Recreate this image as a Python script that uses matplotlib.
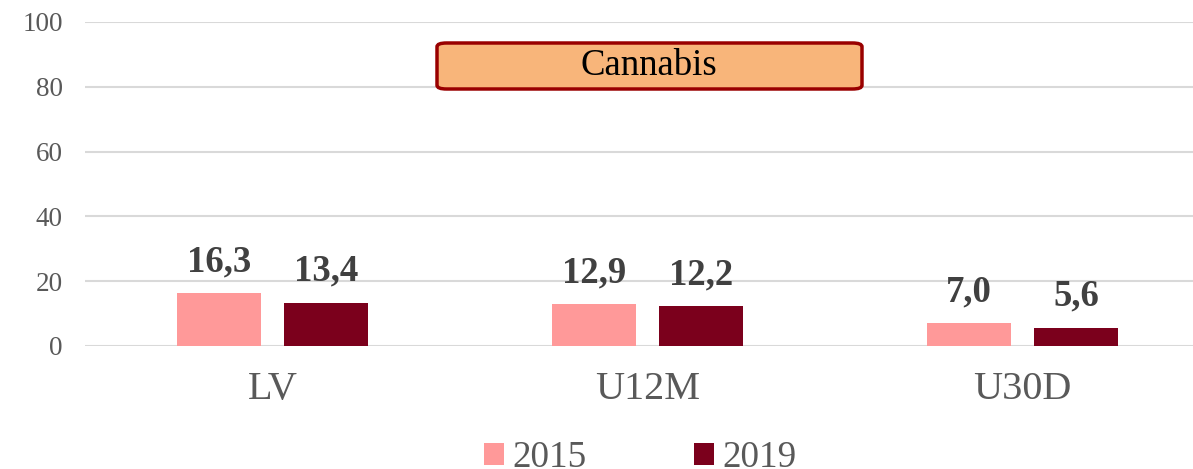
import matplotlib.pyplot as plt
import numpy as np
from matplotlib.patches import FancyBboxPatch, Patch

categories = ["LV", "U12M", "U30D"]
years = ["2015", "2019"]
values_2015 = [16.3, 12.9, 7.0]
values_2019 = [13.4, 12.2, 5.6]
colors = ["#FF9999", "#7B001C"]

plt.rcParams['font.family'] = ['Liberation Serif', 'DejaVu Serif']

fig = plt.figure(figsize=(11.93, 4.69), dpi=100)
ax = fig.add_axes([0.0712, 0.2623, 0.943, 0.6908])

x = np.arange(len(categories))
w = 0.224
off = 0.143
b1 = ax.bar(x - off, values_2015, w, color=colors[0], label=years[0], zorder=3)
b2 = ax.bar(x + off, values_2019, w, color=colors[1], label=years[1], zorder=3)

for bars in (b1, b2):
    for r in bars:
        ax.annotate(f"{r.get_height():.1f}".replace(".", ","),
                    (r.get_x() + r.get_width() / 2, r.get_height()),
                    xytext=(0, 10), textcoords="offset points",
                    ha="center", va="bottom", fontsize=26.5, fontweight="bold",
                    color="#404040")

ax.set_xlim(-0.5, 2.5)
ax.set_ylim(0, 100)
ax.set_yticks(range(0, 101, 20))
ax.set_xticks(x)
ax.set_xticklabels(categories, fontsize=29, color="#595959")
ax.tick_params(axis="y", labelsize=19.5, labelcolor="#595959", length=0, pad=16)
ax.tick_params(axis="x", length=0, pad=18)
ax.yaxis.grid(True, color="#D9D9D9", linewidth=1.5, zorder=0)
for s in ax.spines.values():
    s.set_visible(False)

# title box
box = FancyBboxPatch((437 / 1193, 1 - 89 / 469), 425 / 1193, 46 / 469,
                     boxstyle="round,pad=0,rounding_size=0.008",
                     transform=fig.transFigure, facecolor="#F8B57A",
                     edgecolor="#990000", linewidth=2.5, zorder=5)
fig.patches.append(box)
fig.text(649 / 1193, 1 - 66 / 469, "Cannabis", ha="center", va="center",
         fontsize=26.5, color="black", zorder=6)

handles = [Patch(facecolor=c) for c in colors]
fig.legend(handles, years, loc="center", bbox_to_anchor=(640 / 1193, 1 - 458 / 469),
           ncol=2, frameon=False, fontsize=26.7, labelcolor="#595959",
           handlelength=0.54, handleheight=0.54, handletextpad=0.22,
           columnspacing=2.9, borderpad=0, borderaxespad=0)

fig.savefig("out.png", dpi=100)
